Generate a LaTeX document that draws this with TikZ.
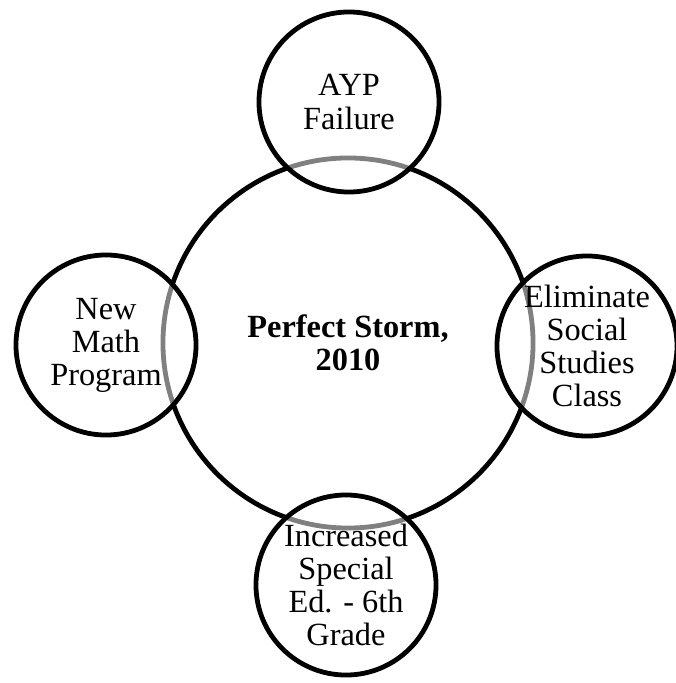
\documentclass[tikz,border=0pt]{standalone}
\usepackage{fontspec}
\setmainfont{Liberation Serif}
\usetikzlibrary{positioning}
\tikzset{
	ring/.style={circle, draw=black, line width=1.2mm, inner sep=-4pt, align=center,
		font=\fontsize{23}{23.5}\selectfont},
	bubble/.style={ring, minimum size=4.5cm, fill=white, fill opacity=0.5, text opacity=1},
}

\begin{document}
\begin{tikzpicture}[x=0.025cm, y=-0.025cm]
		%%%%% START %%%%%
		\useasboundingbox (0, 0) rectangle (676, 683);
		
		\node[ring, minimum size=9.25cm, font=\fontsize{23}{23.5}\selectfont\bfseries] (storm) at (348, 343) {Perfect Storm,\\2010};
		
		\node[bubble] (ayp) at (349, 102) {AYP\\Failure};
		\node[bubble] (math) at (106, 345) {New\\Math\\Program};
		\node[bubble] (social) at (587, 346) {Eliminate\\Social\\Studies\\Class};
		\node[bubble] (sped) at (346, 585) {Increased\\Special\\Ed. - 6th\\Grade};
		
		%%%%% END %%%%%
	\end{tikzpicture}
\end{document}
